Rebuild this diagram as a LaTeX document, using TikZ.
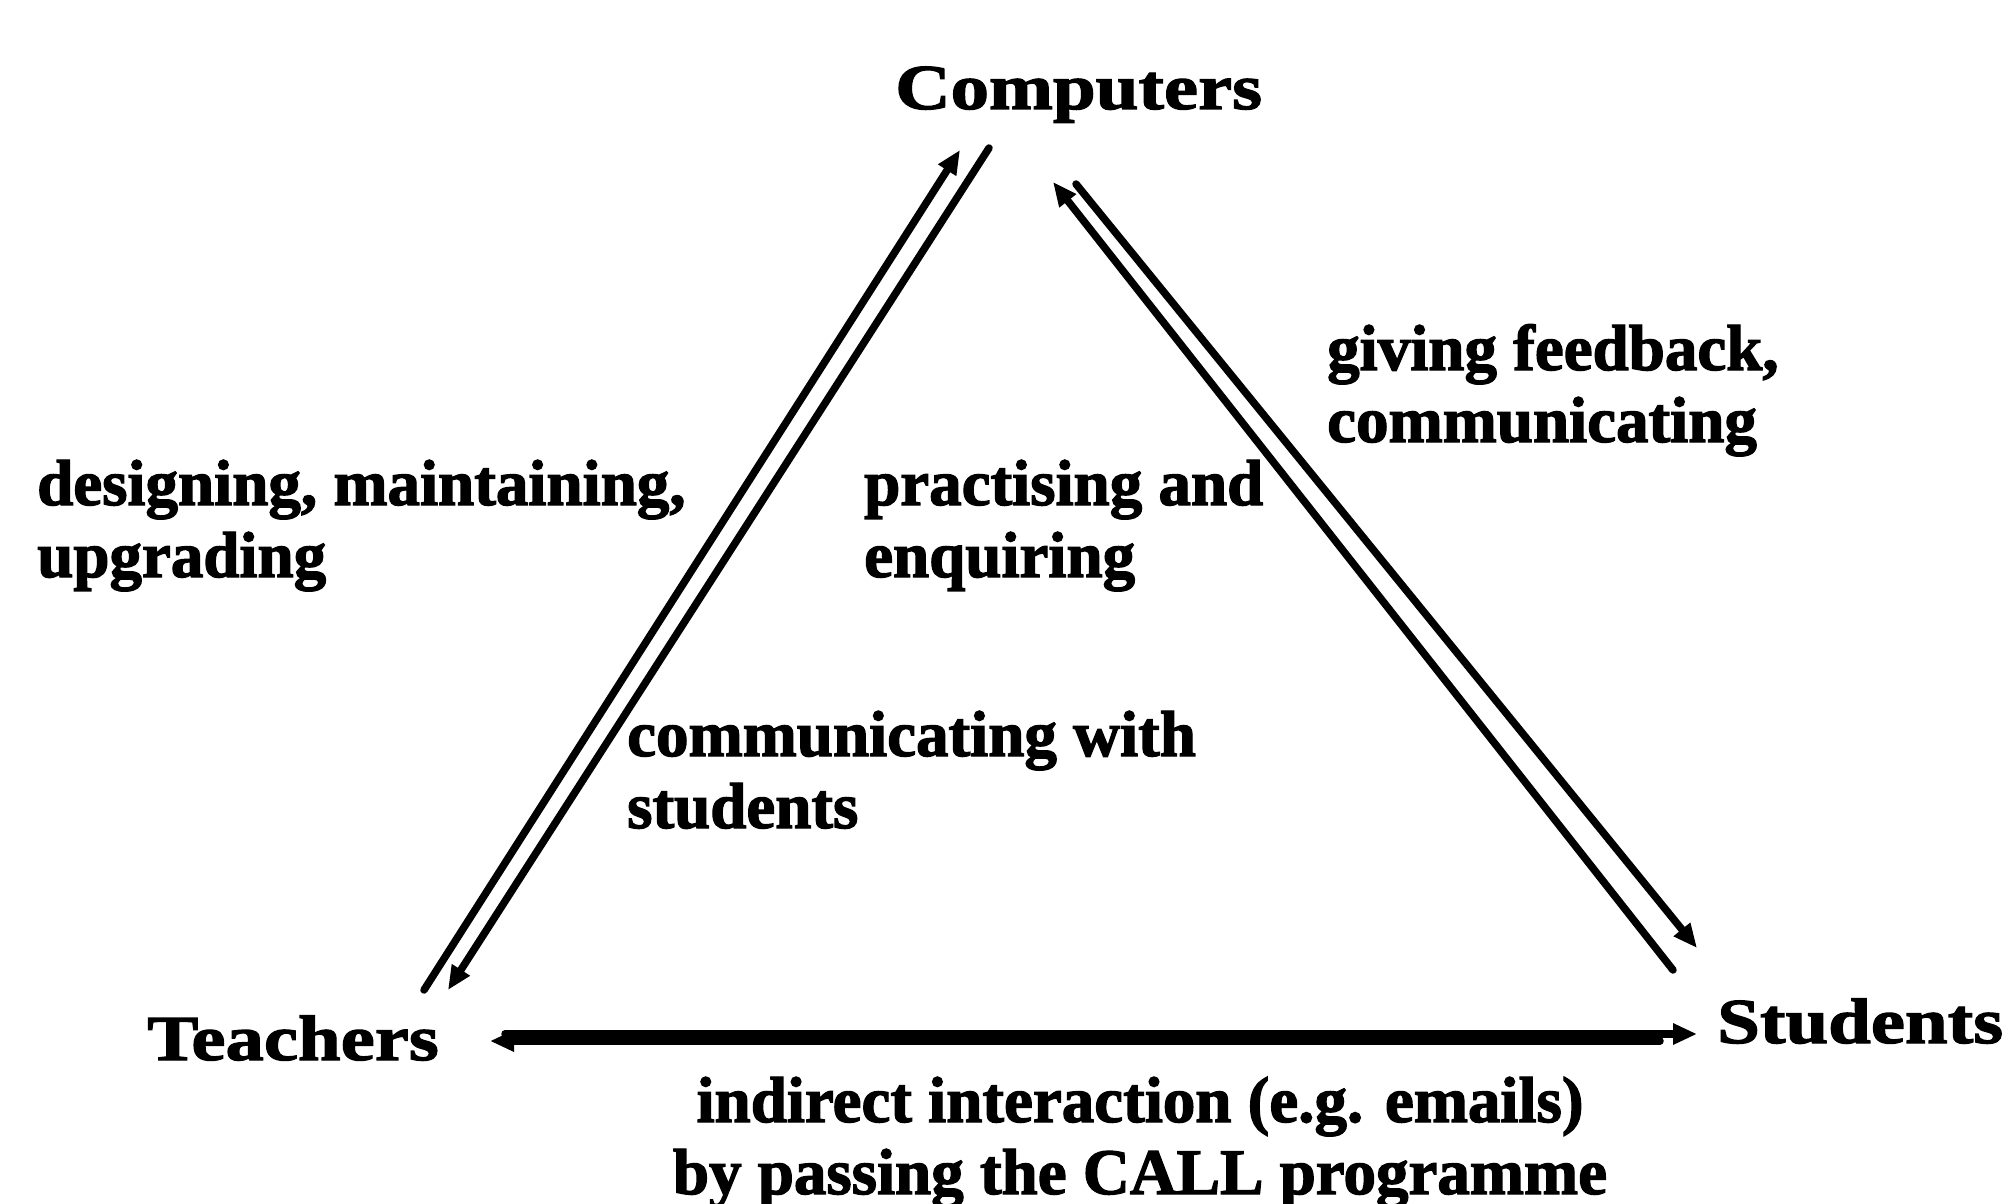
\documentclass[tikz,border=0pt]{standalone}
\usepackage{fontspec}
\setmainfont{Liberation Serif}[BoldFeatures={FakeBold=2}]
\newfontfamily\headfont{Liberation Serif}[FakeStretch=1.2, BoldFeatures={FakeBold=2}]
\usetikzlibrary{arrows.meta}
% two-line label whose baseline is that of its first line
\newcommand\twolines[2]{\begin{tabular}[t]{@{}l@{}}#1\\#2\end{tabular}}

\begin{document}
\begin{tikzpicture}[x=1pt,y=-1pt,
  head/.style={font=\headfont\bfseries\fontsize{64}{72}\selectfont, inner sep=0pt, anchor=base west},
  lbl/.style={font=\bfseries\fontsize{65}{72}\selectfont, inner sep=0pt, anchor=base west},
  conn/.style={line width=7.5pt, line cap=round, -{Triangle[length=24pt,width=20pt]}}]
\useasboundingbox[fill=white] (0,0) rectangle (2008,1204);

% the three parties
\node[head] (comp)  at (895,109)  {Computers};
\node[head] (teach) at (147,1060) {Teachers};
\node[head] (stud)  at (1717,1043) {Students};

% end points of the paired connectors
\coordinate (tA) at (424,990);  \coordinate (cA) at (960,150);
\coordinate (cB) at (989,148);  \coordinate (tB) at (448,990);
\coordinate (sA) at (1673,970); \coordinate (cC) at (1053,182);
\coordinate (cD) at (1076,184); \coordinate (sB) at (1697,948);
\coordinate (tC) at (505,1034); \coordinate (sC) at (1697,1034);
\coordinate (sD) at (1660,1041); \coordinate (tD) at (490,1041);

% teachers <-> computers
\draw[conn] (tA) -- (cA);
\draw[conn] (cB) -- (tB);
% students <-> computers
\draw[conn] (sA) -- (cC);
\draw[conn] (cD) -- (sB);
% teachers <-> students
\draw[conn] (tC) -- (sC);
\draw[conn] (sD) -- (tD);

% activity labels
\node[lbl] (design)   at (37,505)   {\twolines{designing, maintaining,}{upgrading}};
\node[lbl] (practise) at (864,505)  {\twolines{practising and}{enquiring}};
\node[lbl] (feedback) at (1327,370) {\twolines{giving feedback,}{communicating}};
\node[lbl] (withstud) at (627,756)  {\twolines{communicating with}{students}};
\node[lbl, anchor=base] (indirect) at (1140,1122)
  {\begin{tabular}[t]{@{}c@{}}indirect interaction (e.g. emails)\\by passing the CALL programme\end{tabular}};
\end{tikzpicture}
\end{document}
